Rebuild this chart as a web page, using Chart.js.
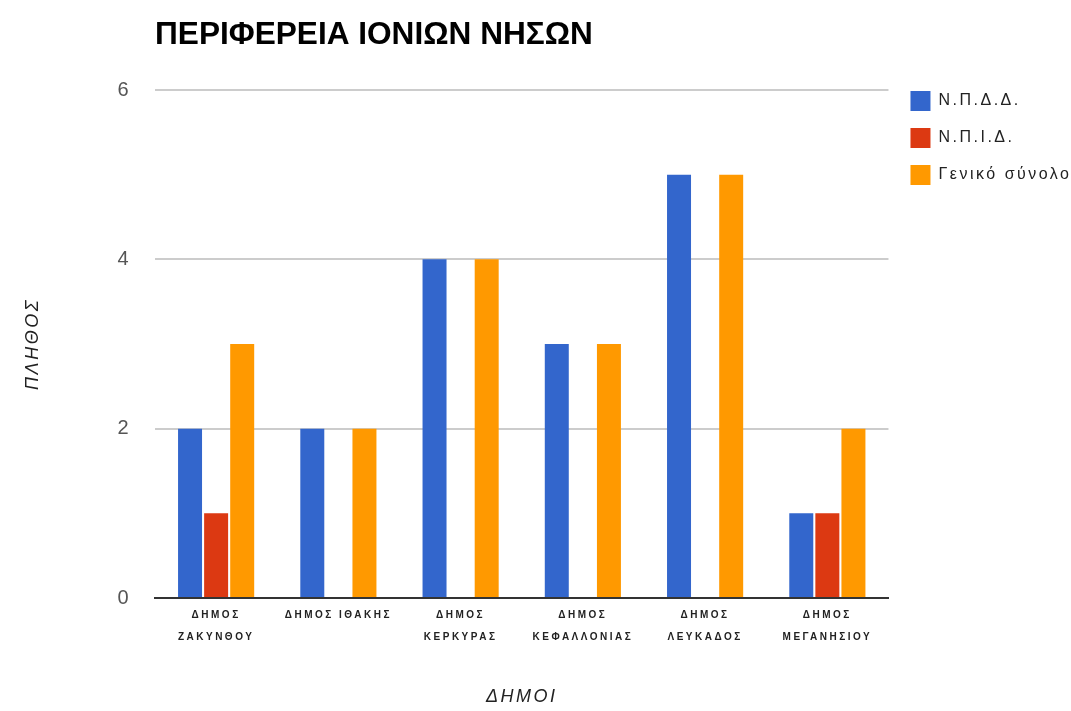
<!DOCTYPE html>
<html>
<head>
<meta charset="utf-8">
<script src="https://cdn.jsdelivr.net/npm/chart.js@4/dist/chart.umd.min.js"></script>
<style>
html,body{margin:0;padding:0;background:#fff;}
#wrap{width:1071px;height:711px;position:relative;}
</style>
</head>
<body>
<div id="wrap"><canvas id="c" width="1071" height="711"></canvas></div>
<script>
const chartTitle = 'ΠΕΡΙΦΕΡΕΙΑ ΙΟΝΙΩΝ ΝΗΣΩΝ';
const categories = [
  ['ΔΗΜΟΣ', 'ΖΑΚΥΝΘΟΥ'],
  'ΔΗΜΟΣ ΙΘΑΚΗΣ',
  ['ΔΗΜΟΣ', 'ΚΕΡΚΥΡΑΣ'],
  ['ΔΗΜΟΣ', 'ΚΕΦΑΛΛΟΝΙΑΣ'],
  ['ΔΗΜΟΣ', 'ΛΕΥΚΑΔΟΣ'],
  ['ΔΗΜΟΣ', 'ΜΕΓΑΝΗΣΙΟΥ']
];
const seriesNames = ['Ν.Π.Δ.Δ.', 'Ν.Π.Ι.Δ.', 'Γενικό σύνολο'];
const npdd = [2, 2, 4, 3, 5, 1];
const npid = [1, 0, 0, 0, 0, 1];
const total = [3, 2, 4, 3, 5, 2];
const yTicks = [0, 2, 4, 6];
const xTitle = 'ΔΗΜΟΙ';
const yTitle = 'ΠΛΗΘΟΣ';

const titlePlugin = {
  id: 'leftTitle',
  afterDraw(chart) {
    const ctx = chart.ctx;
    ctx.save();
    ctx.letterSpacing = '0px';
    ctx.font = 'bold 31.6px "Liberation Sans", Arial, sans-serif';
    ctx.fillStyle = '#000';
    ctx.textBaseline = 'alphabetic';
    ctx.textAlign = 'left';
    ctx.fillText(chartTitle, chart.chartArea.left, 44);
    ctx.restore();
  }
};
const spacingPlugin = {
  id: 'spacing',
  beforeDraw(chart) { chart.ctx.letterSpacing = '2.5px'; },
  afterLayout(chart) {
    const lg = chart.legend;
    if (lg) {
      const p = lg.options.labels.padding;
      lg.top = chart.chartArea.top + 1 - p;
      lg.left = chart.chartArea.right + 22 - p;
      lg.right = chart.width;
      lg.width = lg.right - lg.left;
      lg.bottom = chart.height;
      lg.height = lg.bottom - lg.top;
    }
  }
};

new Chart(document.getElementById('c'), {
  type: 'bar',
  data: {
    labels: categories,
    datasets: [
      { label: seriesNames[0], data: npdd, backgroundColor: '#3366cc' },
      { label: seriesNames[1], data: npid, backgroundColor: '#dc3912' },
      { label: seriesNames[2], data: total, backgroundColor: '#ff9900' }
    ]
  },
  options: {
    responsive: false,
    animation: false,
    devicePixelRatio: 1,
    categoryPercentage: 0.64,
    barPercentage: 0.92,
    layout: { padding: { top: 90, right: 27, bottom: 0, left: 0 } },
    plugins: {
      title: { display: false },
      tooltip: { enabled: false },
      legend: {
        position: 'right',
        align: 'start',
        labels: {
          boxWidth: 20, boxHeight: 20, padding: 17,
          color: '#222',
          font: { size: 16, family: '"Liberation Sans", Arial, sans-serif' }
        }
      }
    },
    scales: {
      x: {
        grid: { display: false, drawTicks: false },
        border: { display: true, color: '#333', width: 2 },
        ticks: {
          autoSkip: false, maxRotation: 0, minRotation: 0,
          color: '#222', padding: 6,
          font: { size: 10, weight: 'bold', family: '"Liberation Sans", Arial, sans-serif', lineHeight: 2.2 }
        },
        title: {
          display: true, text: xTitle, color: '#222',
          padding: { top: 0, bottom: 3 },
          font: { size: 18, style: 'italic', family: '"Liberation Sans", Arial, sans-serif' }
        },
        afterFit(s) { s.height = 711 - 598; }
      },
      y: {
        min: 0, max: 6,
        afterBuildTicks(s) { s.ticks = yTicks.map(v => ({ value: v })); },
        grid: {
          color: (c) => c.tick && c.tick.value === 0 ? 'rgba(0,0,0,0)' : '#cccccc',
          lineWidth: 2, drawTicks: false
        },
        border: { display: false },
        ticks: {
          color: '#555', padding: 24,
          font: { size: 20, family: '"Liberation Sans", Arial, sans-serif' }
        },
        title: {
          display: true, text: yTitle, color: '#222',
          padding: { top: 22, bottom: 0 },
          font: { size: 18, style: 'italic', family: '"Liberation Sans", Arial, sans-serif' }
        },
        afterFit(s) { s.width = 155; }
      }
    }
  },
  plugins: [titlePlugin, spacingPlugin]
});
</script>
</body>
</html>
